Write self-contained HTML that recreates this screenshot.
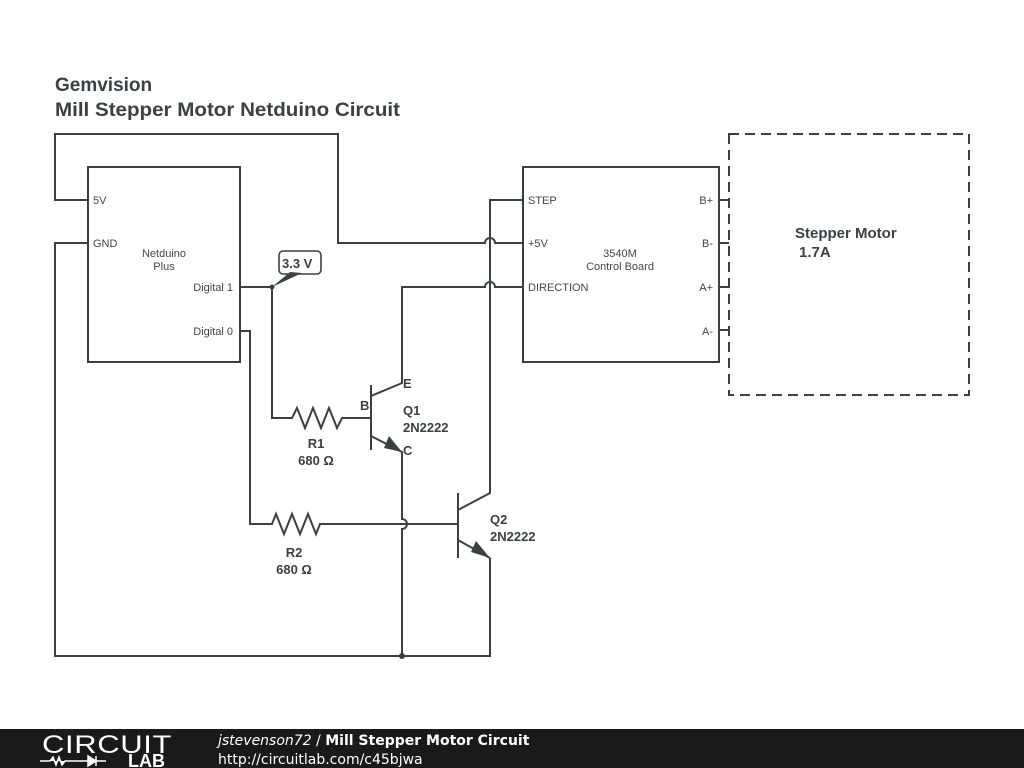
<!DOCTYPE html>
<html><head><meta charset="utf-8"><style>
html,body{margin:0;padding:0;background:#fff;width:1024px;height:768px;overflow:hidden}
svg{display:block}
text{font-family:"Liberation Sans",Arial,sans-serif}
.s{fill:#444;font-size:11px}
.b{fill:#3a4145;font-weight:bold;font-size:13px}
</style></head><body>
<svg width="1024" height="768" xmlns="http://www.w3.org/2000/svg">
<rect width="1024" height="768" fill="#fff"/>
<text x="55" y="91" style="font-size:19px;font-weight:bold;fill:#3a4145">Gemvision</text>
<text x="55" y="116" style="font-size:19.5px;font-weight:bold;fill:#3a4145" textLength="345" lengthAdjust="spacingAndGlyphs">Mill Stepper Motor Netduino Circuit</text>
<g fill="none" stroke="#3a4145" stroke-width="2">
<rect x="88" y="167" width="152" height="195"/>
<rect x="523" y="167" width="196" height="195"/>
<rect x="729" y="134" width="240" height="261" stroke-dasharray="10,6"/>
<path d="M88 200H55V134H338V243H485a5 5 0 0 1 10 0H523"/>
<path d="M88 243H55V656H490V558"/>
<path d="M240 287H272V418H292l5-10 8 20 8-20 8 20 8-20 8 20 5-10H371"/>
<path d="M371 385V450"/>
<path d="M371 396L402 383V287H485a5 5 0 0 1 10 0H523"/>
<path d="M371 436L402 452V519a5 5 0 0 1 0 10V656"/>
<path d="M240 331H250V524H272l4-10 8 20 8-20 8 20 8-20 8 20 4-10H458"/>
<path d="M458 493V558"/>
<path d="M458 510L490 493V200H523"/>
<path d="M458 540L490 558"/>
<path d="M719 200H729M719 243H729M719 287H729M719 330H729"/>
<rect x="279" y="251" width="42" height="23" rx="4" stroke-width="1.6"/>
</g>
<path d="M389 436L402 452 384 448Z" fill="#3a4145"/>
<path d="M476 541L490 558 471 552Z" fill="#3a4145"/>
<path d="M272 287L290 272 302 273Z" fill="#3a4145"/>
<circle cx="272" cy="287" r="2.5" fill="#3a4145"/>
<circle cx="402" cy="656" r="3" fill="#3a4145"/>
<text x="282" y="268" class="b">3.3 V</text>
<text x="93" y="204" class="s">5V</text>
<text x="93" y="247" class="s">GND</text>
<text x="164" y="257" class="s" text-anchor="middle">Netduino</text>
<text x="164" y="270" class="s" text-anchor="middle">Plus</text>
<text x="233" y="291" class="s" text-anchor="end">Digital 1</text>
<text x="233" y="335" class="s" text-anchor="end">Digital 0</text>
<text x="528" y="204" class="s">STEP</text>
<text x="528" y="247" class="s">+5V</text>
<text x="528" y="291" class="s">DIRECTION</text>
<text x="620" y="257" class="s" text-anchor="middle">3540M</text>
<text x="620" y="270" class="s" text-anchor="middle">Control Board</text>
<text x="713" y="204" class="s" text-anchor="end">B+</text>
<text x="713" y="247" class="s" text-anchor="end">B-</text>
<text x="713" y="291" class="s" text-anchor="end">A+</text>
<text x="713" y="335" class="s" text-anchor="end">A-</text>
<text x="795" y="238" style="font-size:15px;font-weight:bold;fill:#3a4145">Stepper Motor</text>
<text x="799" y="257" style="font-size:15px;font-weight:bold;fill:#3a4145">1.7A</text>
<text x="403" y="388" class="b">E</text>
<text x="360" y="410" class="b">B</text>
<text x="403" y="455" class="b">C</text>
<text x="403" y="415" class="b">Q1</text>
<text x="403" y="432" class="b">2N2222</text>
<text x="316" y="448" class="b" text-anchor="middle">R1</text>
<text x="316" y="465" class="b" text-anchor="middle">680 Ω</text>
<text x="490" y="524" class="b">Q2</text>
<text x="490" y="541" class="b">2N2222</text>
<text x="294" y="557" class="b" text-anchor="middle">R2</text>
<text x="294" y="574" class="b" text-anchor="middle">680 Ω</text>
<rect x="0" y="729" width="1024" height="39" fill="#1a1a1a"/>
<text x="42" y="753" style="font-size:25px;fill:#fff;letter-spacing:0.5px" textLength="130" lengthAdjust="spacingAndGlyphs">CIRCUIT</text>
<path d="M40 761H50l3-4 3 8 3-8 3 8 3-4H80M80 761h8M88 756v10l8-5z M96 756v10M96 761h10" stroke="#fff" stroke-width="1.5" fill="#fff"/>
<text x="128" y="767" style="font-size:18px;font-weight:bold;fill:#fff">LAB</text>
<text x="218" y="745" style="font-size:14px;fill:#fff;font-family:'DejaVu Sans',sans-serif"><tspan font-style="italic">jstevenson72</tspan> / <tspan font-weight="bold">Mill Stepper Motor Circuit</tspan></text>
<text x="218" y="764" style="font-size:14px;fill:#fff;font-family:'DejaVu Sans',sans-serif">http://circuitlab.com/c45bjwa</text>
</svg>
</body></html>
